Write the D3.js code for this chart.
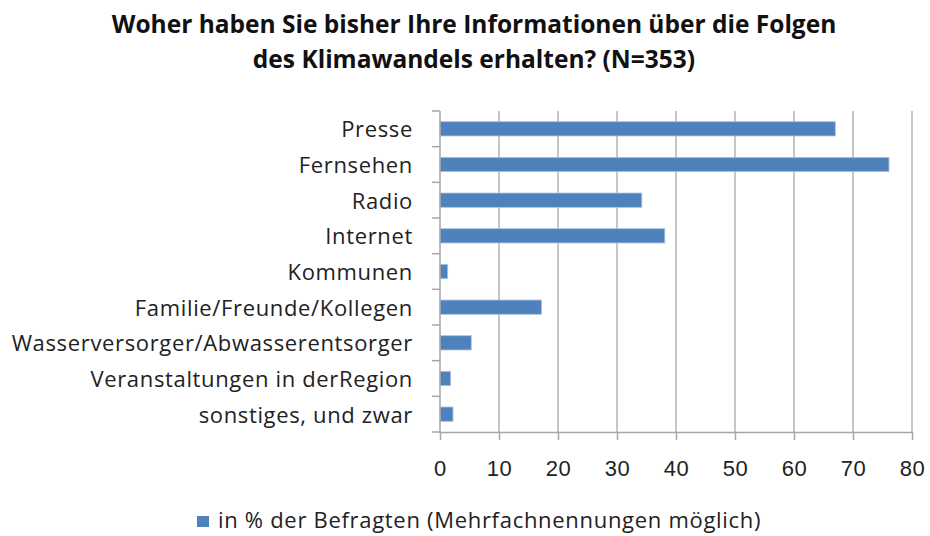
<!DOCTYPE html>
<html>
<head>
<meta charset="utf-8">
<script src="https://cdn.jsdelivr.net/npm/d3@7"></script>
<style>
  body { margin: 0; background: #fff; }
  svg { font-family: "Open Sans", sans-serif; }
</style>
</head>
<body>
<div id="chart-area"></div>
<script>
const categories = ["Presse", "Fernsehen", "Radio", "Internet", "Kommunen",
    "Familie/Freunde/Kollegen", "Wasserversorger/Abwasserentsorger",
    "Veranstaltungen in derRegion", "sonstiges, und zwar"];
const values = [67.0, 76.1, 34.2, 38.1, 1.3, 17.2, 5.3, 1.8, 2.2];
const xTicks = [0, 10, 20, 30, 40, 50, 60, 70, 80];
const titleLines = ["Woher haben Sie bisher Ihre Informationen über die Folgen",
    "des Klimawandels erhalten? (N=353)"];
const seriesName = "in % der Befragten (Mehrfachnennungen möglich)";

const data = categories.map((c, i) => ({ category: c, value: values[i] }));

const margin = { top: 111, right: 18, bottom: 104, left: 440 };
const width = 930 - margin.left - margin.right;
const height = 536 - margin.top - margin.bottom;

const svg = d3.select("#chart-area")
    .append("svg")
    .attr("width", 930)
    .attr("height", 536);

const g = svg.append("g")
    .attr("transform", `translate(${margin.left}, ${margin.top})`);

const x = d3.scaleLinear()
    .domain([0, 80])
    .range([0, 472]);

const y = d3.scaleBand()
    .domain(categories)
    .range([0, height])
    .paddingInner(0.6)
    .paddingOuter(0.3);

// vertical gridlines
g.append("g")
    .selectAll("line")
    .data(xTicks.slice(1))
    .enter()
    .append("line")
    .attr("x1", d => x(d))
    .attr("x2", d => x(d))
    .attr("y1", 0)
    .attr("y2", height)
    .attr("stroke", "#b3b3b3")
    .attr("stroke-width", 1.5);

g.selectAll("rect")
    .data(data)
    .enter()
    .append("rect")
    .attr("x", 0)
    .attr("y", d => y(d.category))
    .attr("width", d => x(d.value))
    .attr("height", y.bandwidth())
    .attr("fill", "#4f81bd")
    .attr("stroke", "#a9c1e0")
    .attr("stroke-width", 0.8);

// x axis
const xAxis = g.append("g")
    .attr("transform", `translate(0, ${height})`)
    .call(d3.axisBottom(x).tickValues(xTicks).tickSize(8).tickSizeOuter(0));
xAxis.select(".domain").attr("stroke", "#a6a6a6").attr("stroke-width", 1.5);
xAxis.selectAll(".tick line").attr("stroke", "#a6a6a6").attr("stroke-width", 1.5);
xAxis.selectAll("text")
    .attr("y", 28)
    .attr("font-size", "22px")
    .attr("letter-spacing", "0.6px")
    .attr("fill", "#222");

// y axis with ticks on band boundaries
const yAxis = g.append("g");
yAxis.append("line")
    .attr("x1", 0).attr("x2", 0)
    .attr("y1", 0).attr("y2", height)
    .attr("stroke", "#a6a6a6")
    .attr("stroke-width", 1.5);
yAxis.selectAll(".ytick")
    .data(d3.range(categories.length + 1))
    .enter()
    .append("line")
    .attr("class", "ytick")
    .attr("x1", -8).attr("x2", 0)
    .attr("y1", i => i * height / categories.length)
    .attr("y2", i => i * height / categories.length)
    .attr("stroke", "#a6a6a6")
    .attr("stroke-width", 1.5);

yAxis.selectAll(".ylabel")
    .data(categories)
    .enter()
    .append("text")
    .attr("class", "ylabel")
    .attr("x", -27)
    .attr("y", d => y(d) + y.bandwidth() / 2)
    .attr("dy", "0.38em")
    .attr("text-anchor", "end")
    .attr("font-size", "22px")
    .attr("letter-spacing", "0.65px")
    .attr("fill", "#222")
    .text(d => d);

// title
svg.append("g")
    .selectAll("text")
    .data(titleLines)
    .enter()
    .append("text")
    .attr("x", 474)
    .attr("y", (d, i) => 33 + i * 35)
    .attr("text-anchor", "middle")
    .attr("font-size", "24.5px")
    .attr("font-weight", "bold")
    .attr("fill", "#111")
    .text(d => d);

// legend
const legend = svg.append("g").attr("transform", "translate(197, 516)");
legend.append("rect")
    .attr("width", 12).attr("height", 11)
    .attr("fill", "#4f81bd");
legend.append("text")
    .attr("x", 21)
    .attr("y", 12)
    .attr("font-size", "22px")
    .attr("letter-spacing", "0.7px")
    .attr("fill", "#222")
    .text(seriesName);
</script>
</body>
</html>
